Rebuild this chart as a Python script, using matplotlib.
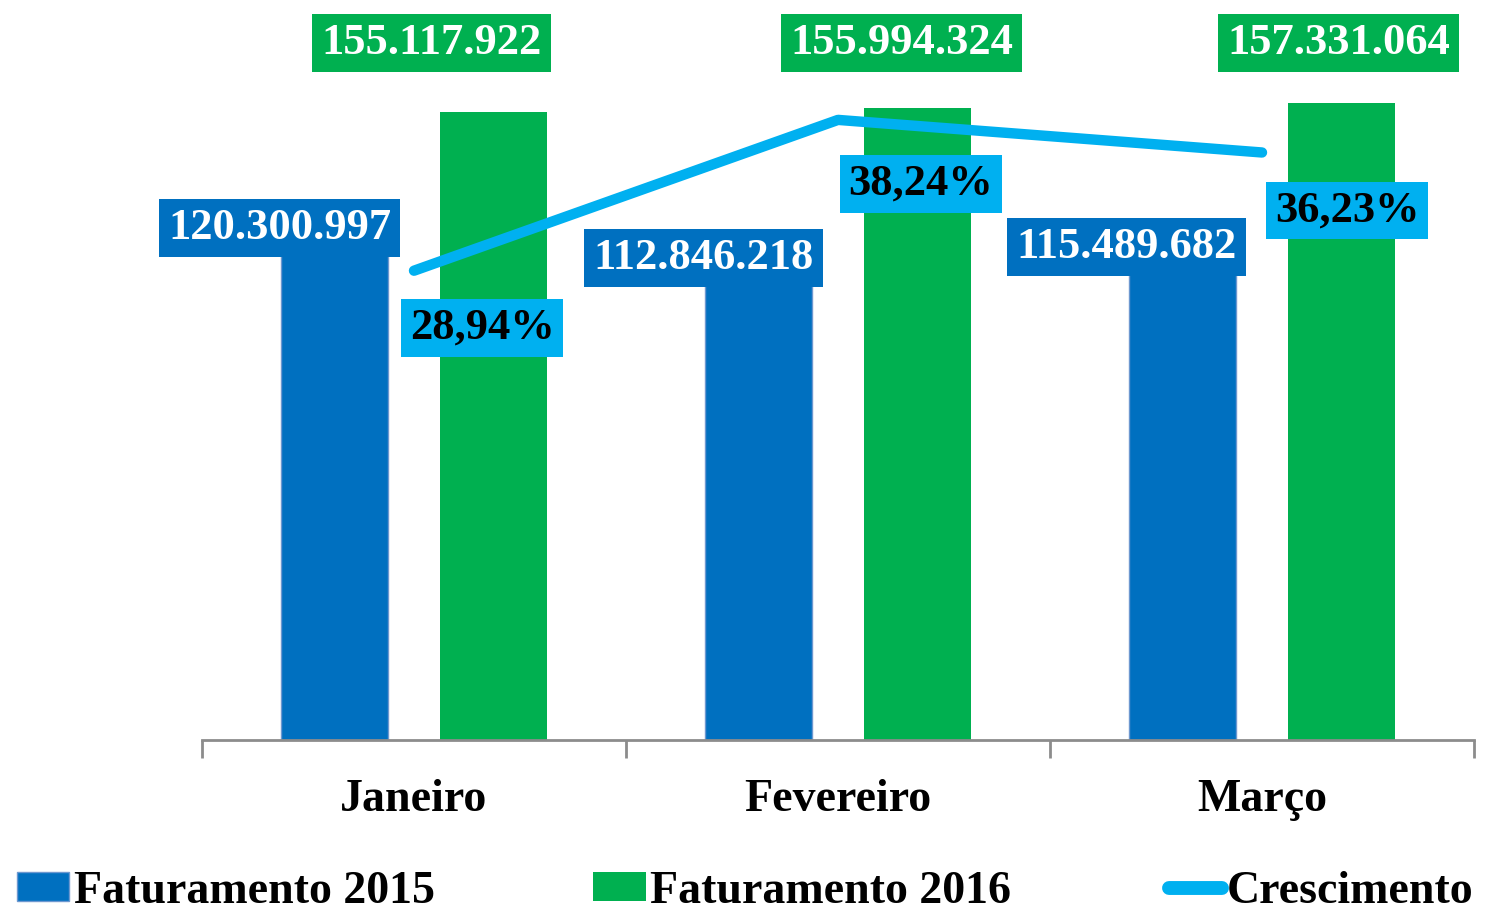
import matplotlib
matplotlib.use("Agg")
import matplotlib.pyplot as plt
from matplotlib.patches import Patch
from matplotlib.lines import Line2D
import numpy as np

meses = ["Janeiro", "Fevereiro", "Março"]
fat_2015 = [120300997, 112846218, 115489682]
fat_2016 = [155117922, 155994324, 157331064]
crescimento = [28.94, 38.24, 36.23]

azul = "#0070C0"
verde = "#00B050"
ciano = "#00B0F0"

plt.rcParams["font.family"] = ["Liberation Serif", "DejaVu Serif"]
plt.rcParams["font.weight"] = "bold"


def fmt_br(v):
    return f"{v:,}".replace(",", ".")


fig = plt.figure(figsize=(14.86, 9.13), dpi=100)
ax = fig.add_axes([202 / 1486, 173 / 913, 1272 / 1486, 720 / 913])
ax2 = ax.twinx()

x = np.arange(len(meses))
w = 0.252
off = 0.1875
ax.bar(x - off, np.array(fat_2015) / 1e6, w, color=azul, edgecolor="#6d98d0", linewidth=1)
ax.bar(x + off, np.array(fat_2016) / 1e6, w, color=verde)
ax.set_xlim(-0.5, 2.5)
ax.set_ylim(0, 177.8)

ax2.plot(x, crescimento, color=ciano, linewidth=7.5, solid_capstyle="round")
ax2.set_ylim(0, 44.4)

for a in (ax, ax2):
    for s in ["top", "right", "left"]:
        a.spines[s].set_visible(False)
    a.set_yticks([])
ax2.spines["bottom"].set_visible(False)
ax.spines["bottom"].set_color("#8c8c8c")
ax.spines["bottom"].set_linewidth(2)

ax.set_xticks([-0.5, 0.5, 1.5, 2.5])
ax.set_xticklabels([])
ax.set_xticks(x, minor=True)
ax.set_xticklabels(meses, minor=True, fontsize=33, fontweight="bold")
ax.tick_params(axis="x", which="major", length=13, width=2, color="#8c8c8c")
ax.tick_params(axis="x", which="minor", length=0, pad=28)

# rotulos dos valores
desloc_azul = [-55, -55, -56]
for i, v in enumerate(fat_2015):
    ax.annotate(fmt_br(v), xy=(x[i] - off, v / 1e6), xytext=(desloc_azul[i], 25),
                textcoords="offset pixels", ha="center", va="center",
                fontsize=32, color="white", fontweight="bold",
                bbox=dict(boxstyle="square,pad=0.2", fc=azul, ec="none"))

desloc_verde = [-62, -16, -3]
for i, v in enumerate(fat_2016):
    ax.annotate(fmt_br(v), xy=(x[i] + off, 870), xycoords=("data", "figure pixels"),
                xytext=(desloc_verde[i], 0), textcoords="offset pixels",
                ha="center", va="center", fontsize=32, color="white", fontweight="bold",
                annotation_clip=False,
                bbox=dict(boxstyle="square,pad=0.2", fc=verde, ec="none"))

desloc_pct = [(68, -57), (83, -64), (85, -58)]
for i, v in enumerate(crescimento):
    ax2.annotate(f"{v:.2f}%".replace(".", ","), xy=(x[i], v), xytext=desloc_pct[i],
                 textcoords="offset pixels", ha="center", va="center",
                 fontsize=32, color="black", fontweight="bold",
                 bbox=dict(boxstyle="square,pad=0.2", fc=ciano, ec="none"))

handles = [Patch(facecolor=azul, edgecolor="#6d98d0"),
           Patch(facecolor=verde),
           Line2D([0], [0], color=ciano, linewidth=10, solid_capstyle="round")]
fig.legend(handles, ["Faturamento 2015", "Faturamento 2016", "Crescimento"],
           loc="center left", bbox_to_anchor=(0.005, 21 / 913), ncol=3, frameon=False,
           fontsize=33, handlelength=1.15, handleheight=0.6, handletextpad=0.1,
           columnspacing=3.45, borderaxespad=0.0, borderpad=0.2)

fig.savefig("out.png", dpi=100)
